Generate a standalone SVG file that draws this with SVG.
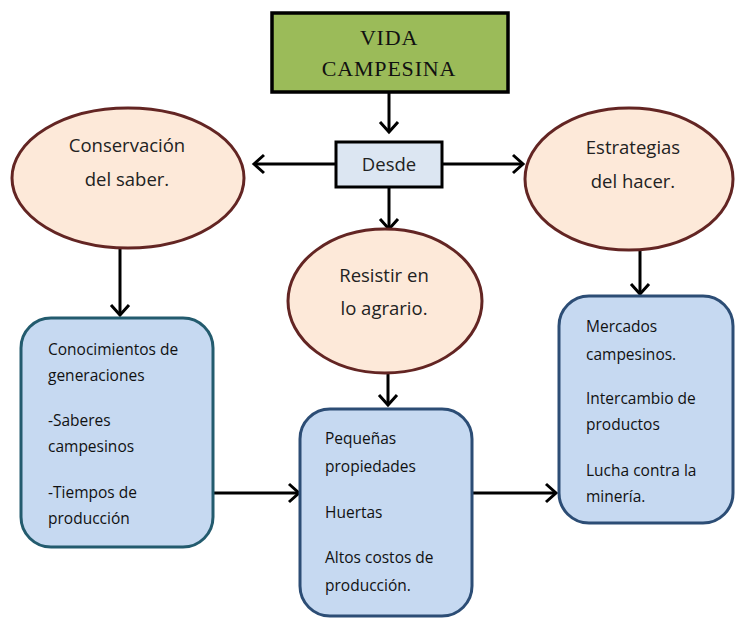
<svg xmlns="http://www.w3.org/2000/svg" width="735" height="619" viewBox="0 0 735 619">
<style>
.ell{fill:#FDE9D9;stroke:#632523;stroke-width:3}
.box{fill:#C6D9F1;stroke:#2C4D75;stroke-width:3}
.con{stroke:#000;stroke-width:3;fill:none}
.et{font-family:"Open Sans",sans-serif;font-size:18.5px;fill:#222;text-anchor:middle}
.bt{font-family:"Open Sans",sans-serif;font-size:15.5px;fill:#111}
.st{font-family:"Liberation Serif",serif;font-size:22px;fill:#111;text-anchor:middle;letter-spacing:0.8px}
</style>
<defs>
<marker id="ah" markerUnits="userSpaceOnUse" markerWidth="16" markerHeight="22" refX="12" refY="11" orient="auto">
<path d="M2,2 L12,11 L2,20" fill="none" stroke="#000" stroke-width="3"/>
</marker>
</defs>
<rect width="735" height="619" fill="#fff"/>
<g id="connectors">
<line class="con" x1="389" y1="92" x2="389" y2="132" marker-end="url(#ah)"/>
<line class="con" x1="336" y1="164" x2="254" y2="164" marker-end="url(#ah)"/>
<line class="con" x1="442" y1="164" x2="523" y2="164" marker-end="url(#ah)"/>
<line class="con" x1="389" y1="187" x2="389" y2="229" marker-end="url(#ah)"/>
<line class="con" x1="120" y1="249" x2="120" y2="315" marker-end="url(#ah)"/>
<line class="con" x1="640" y1="250" x2="640" y2="294" marker-end="url(#ah)"/>
<line class="con" x1="388" y1="363" x2="388" y2="405" marker-end="url(#ah)"/>
<line class="con" x1="213" y1="493" x2="299" y2="493" marker-end="url(#ah)"/>
<line class="con" x1="472" y1="493" x2="556" y2="493" marker-end="url(#ah)"/>
</g>
<g id="vida">
<rect x="272" y="13" width="236" height="79" fill="#9BBB59" stroke="#000" stroke-width="3.5"/>
<text class="st" x="389" y="45">VIDA</text>
<text class="st" x="389" y="76">CAMPESINA</text>
</g>
<g id="desde">
<rect x="336" y="142" width="106" height="45" fill="#DCE6F2" stroke="#000" stroke-width="3"/>
<text class="et" x="389" y="171">Desde</text>
</g>
<g id="conservacion">
<ellipse class="ell" cx="128" cy="178" rx="116" ry="70"/>
<text class="et" x="127" y="152">Conservación</text>
<text class="et" x="127" y="186">del saber.</text>
</g>
<g id="estrategias">
<ellipse class="ell" cx="629" cy="179" rx="104" ry="71"/>
<text class="et" x="633" y="154">Estrategias</text>
<text class="et" x="633" y="188">del hacer.</text>
</g>
<g id="resistir">
<ellipse class="ell" cx="385" cy="301" rx="97" ry="72"/>
<text class="et" x="384" y="282">Resistir en</text>
<text class="et" x="384" y="315">lo agrario.</text>
</g>
<g id="conocimientos">
<rect class="box" x="21" y="318" width="192" height="229" rx="30" style="stroke:#235B6E"/>
<text class="bt" x="48" y="355">Conocimientos de</text>
<text class="bt" x="48" y="381">generaciones</text>
<text class="bt" x="48" y="426">-Saberes</text>
<text class="bt" x="48" y="452">campesinos</text>
<text class="bt" x="48" y="498">-Tiempos de</text>
<text class="bt" x="48" y="524">producción</text>
</g>
<g id="pequenas">
<rect class="box" x="300" y="409" width="172" height="207" rx="30"/>
<text class="bt" x="325" y="444">Pequeñas</text>
<text class="bt" x="325" y="472">propiedades</text>
<text class="bt" x="325" y="518">Huertas</text>
<text class="bt" x="325" y="563">Altos costos de</text>
<text class="bt" x="325" y="591">producción.</text>
</g>
<g id="mercados">
<rect class="box" x="559" y="296" width="174" height="227" rx="30"/>
<text class="bt" x="586" y="332">Mercados</text>
<text class="bt" x="586" y="360">campesinos.</text>
<text class="bt" x="586" y="404">Intercambio de</text>
<text class="bt" x="586" y="430">productos</text>
<text class="bt" x="586" y="476">Lucha contra la</text>
<text class="bt" x="586" y="502">minería.</text>
</g>
</svg>
